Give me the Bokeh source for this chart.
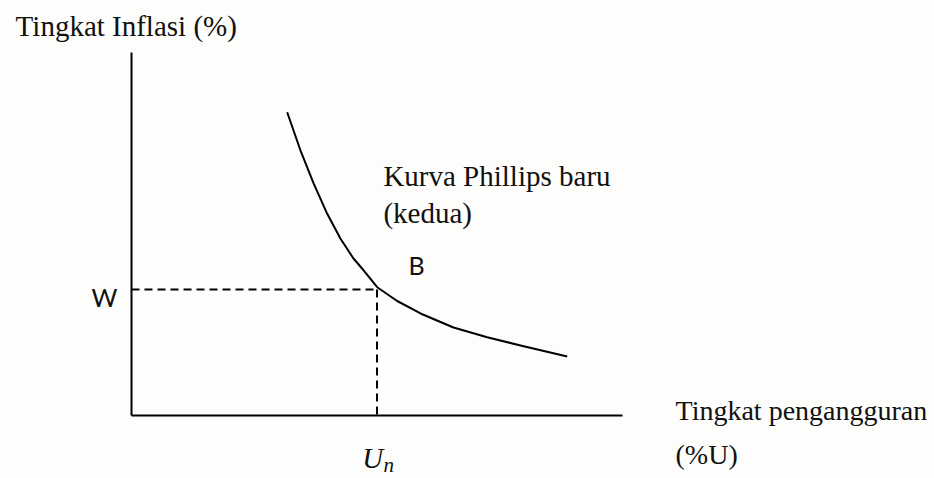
from bokeh.plotting import figure
from bokeh.models import Range1d
from bokeh.core.properties import value
from bokeh.embed import file_html
from bokeh.resources import INLINE

# --- data (arbitrary units) ---
unemployment = [3.171, 3.442, 3.713, 3.986, 4.257, 4.521, 4.731, 5.004,
                5.411, 5.886, 6.558, 7.244, 7.923, 8.874]
inflation = [8.355, 7.300, 6.383, 5.556, 4.868, 4.325, 3.994, 3.534,
             3.154, 2.810, 2.424, 2.157, 1.928, 1.625]
axis_max_x = 10.0
axis_max_y = 10.0
point_U_n = 5.0   # natural rate of unemployment (U_n)
point_W = 3.47    # inflation level W

W, H = 934, 478
p = figure(width=W, height=H, output_backend="svg", toolbar_location=None,
           x_range=Range1d(-2.668, 16.354), y_range=Range1d(-1.736, 11.433),
           min_border=0, outline_line_color=None,
           background_fill_color="#fdfdfb", border_fill_color="#fdfdfb")
p.axis.visible = False
p.grid.visible = False

# axes
p.line([0, 0], [0, axis_max_y], line_color="black", line_width=2)
p.line([0, axis_max_x], [0, 0], line_color="black", line_width=2)

# dashed guides
p.line([0, point_U_n], [point_W, point_W], line_color="black", line_width=2, line_dash="8 5")
p.line([point_U_n, point_U_n], [point_W, 0], line_color="black", line_width=2, line_dash="8 5")

# Phillips curve
p.line(unemployment, inflation, line_color="black", line_width=2, line_join="round")

serif = value("Liberation Serif")
sans = value("Lato")

def label(x, y, txt, font, size, align="left", style="normal"):
    p.text(x=[x], y=[y], text=[txt], text_font=font, text_font_size=size,
           text_align=align, text_baseline="alphabetic", text_color="#111111",
           text_font_style=style)

label(-2.36, 10.72, "Tingkat Inflasi (%)", serif, "29px")
label(5.13, 6.59, "Kurva Phillips baru", serif, "29px")
label(5.13, 5.57, "(kedua)", serif, "29px")
label(11.08, 0.13, "Tingkat pengangguran", serif, "28px")
label(11.08, -1.07, "(%U)", serif, "28px")
label(-0.285, 3.26, "W", sans, "25px", align="right")
label(5.64, 4.14, "B", sans, "25px")
label(4.70, -1.18, "U", serif, "29px", style="italic")
label(5.13, -1.36, "n", serif, "21px", style="italic")

open("out.html", "w").write(file_html(p, INLINE))
